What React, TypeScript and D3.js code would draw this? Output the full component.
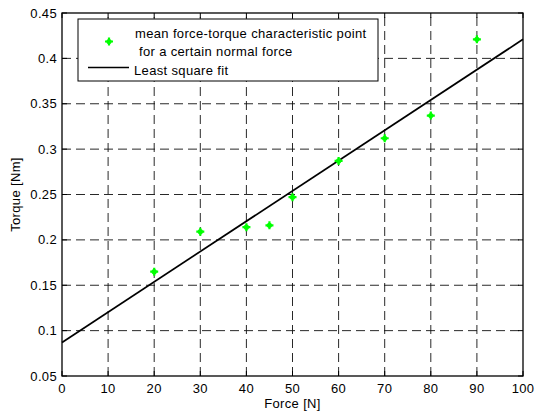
import React from "react";
import * as d3 from "d3";

const forces = [20, 30, 40, 45, 50, 60, 70, 80, 90];
const torques = [0.165, 0.209, 0.214, 0.216, 0.247, 0.287, 0.312, 0.337, 0.421];
const fitX = [0, 100];
const fitY = [0.087, 0.421];
const xTicks = [0, 10, 20, 30, 40, 50, 60, 70, 80, 90, 100];
const yTicks = [0.05, 0.1, 0.15, 0.2, 0.25, 0.3, 0.35, 0.4, 0.45];
const legendLabels = [
  "mean force-torque characteristic point",
  " for a certain normal force",
  "Least square fit",
];

const W = 535;
const H = 416;
const FONT = "'Liberation Sans', Arial, sans-serif";

function Marker({ x, y }: { x: number; y: number }) {
  // matlab-ish green "+" marker, drawn thick
  return (
    <g>
      <path
        d={`M${x - 4},${y}H${x + 4}M${x},${y - 4}V${y + 4}`}
        stroke="#00ff00"
        strokeWidth={2.2}
      />
      <circle cx={x} cy={y} r={2.6} fill="#00ff00" />
    </g>
  );
}

export default function App() {
  const x = d3.scaleLinear().domain([0, 100]).range([62, 523]);
  const y = d3.scaleLinear().domain([0.05, 0.45]).range([376, 13]);
  const [x0, x1] = x.range();
  const [y0, y1] = y.range();

  const fitLine = d3
    .line<number>()
    .x((d) => x(d))
    .y((d, i) => y(fitY[i]));

  const tickLen = 5;

  return (
    <svg
      width={W}
      height={H}
      style={{ position: "absolute", left: 0, top: 0, background: "#fff" }}
      fontFamily={FONT}
      letterSpacing={0.35}
    >
      <rect x={0} y={0} width={W} height={H} fill="#fff" />

      {/* grid */}
      <g stroke="#111" strokeWidth={0.9} strokeDasharray="9,5" fill="none">
        {xTicks.slice(1, -1).map((t) => (
          <line key={"gx" + t} x1={x(t)} x2={x(t)} y1={y0} y2={y1} />
        ))}
        {yTicks.slice(1, -1).map((t) => (
          <line key={"gy" + t} x1={x0} x2={x1} y1={y(t)} y2={y(t)} />
        ))}
      </g>

      {/* ticks, inward on all four sides */}
      <g stroke="#000" strokeWidth={1}>
        {xTicks.map((t) => (
          <g key={"tx" + t}>
            <line x1={x(t)} x2={x(t)} y1={y0} y2={y0 - tickLen} />
            <line x1={x(t)} x2={x(t)} y1={y1} y2={y1 + tickLen} />
          </g>
        ))}
        {yTicks.map((t) => (
          <g key={"ty" + t}>
            <line x1={x0} x2={x0 + tickLen} y1={y(t)} y2={y(t)} />
            <line x1={x1} x2={x1 - tickLen} y1={y(t)} y2={y(t)} />
          </g>
        ))}
      </g>

      {/* fit line */}
      <path d={fitLine(fitX) || ""} stroke="#000" strokeWidth={1.7} fill="none" />

      {/* data points */}
      {forces.map((f, i) => (
        <Marker key={"p" + f} x={x(f)} y={y(torques[i])} />
      ))}

      {/* axes box */}
      <rect
        x={x0}
        y={y1}
        width={x1 - x0}
        height={y0 - y1}
        fill="none"
        stroke="#000"
        strokeWidth={1.3}
      />

      {/* tick labels */}
      <g fontSize={13} fill="#000">
        {xTicks.map((t) => (
          <text key={"lx" + t} x={x(t)} y={393} textAnchor="middle">
            {t}
          </text>
        ))}
        {yTicks.map((t) => (
          <text key={"ly" + t} x={57} y={y(t) + 4.5} textAnchor="end">
            {d3.format("")(+t.toFixed(2))}
          </text>
        ))}
      </g>

      {/* axis labels */}
      <text x={(x0 + x1) / 2} y={408} textAnchor="middle" fontSize={13}>
        Force [N]
      </text>
      <text
        transform={`translate(20,${(y0 + y1) / 2}) rotate(-90)`}
        textAnchor="middle"
        fontSize={13}
      >
        Torque [Nm]
      </text>

      {/* legend */}
      <g>
        <rect x={78} y={19} width={300} height={62} fill="#fff" stroke="#000" strokeWidth={1} />
        <Marker x={109} y={41.5} />
        <line x1={88} x2={129} y1={67.5} y2={67.5} stroke="#000" strokeWidth={1.7} />
        <g fontSize={13} fill="#000">
          <text x={135} y={38}>{legendLabels[0]}</text>
          <text x={135} y={55.5} style={{ whiteSpace: "pre" }}>{legendLabels[1]}</text>
          <text x={134} y={75}>{legendLabels[2]}</text>
        </g>
      </g>
    </svg>
  );
}
